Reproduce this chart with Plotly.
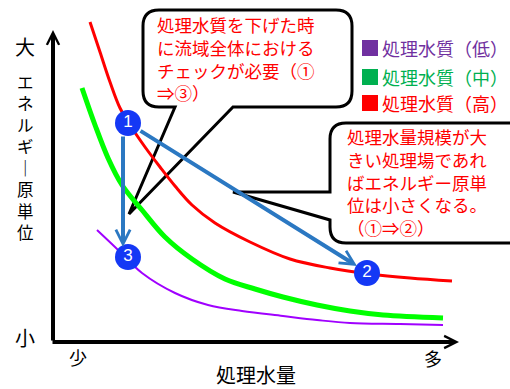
import plotly.graph_objects as go

# ---- data (diagram units: origin at the axes corner) ----
red_x = [37, 47, 57, 67, 79, 92, 107, 122, 139, 162, 197, 237, 277, 317, 357, 399]
red_y = [320, 290, 260, 234, 214, 195, 175, 156, 137, 119, 100, 83, 74, 68, 64, 61]

green_x = [29, 42, 55, 69, 89, 112, 139, 172, 202, 230, 264, 297, 330, 390]
green_y = [254, 217, 184, 157, 132, 105, 83, 63, 53, 45, 37, 31, 27, 24]

purple_x = [44, 62, 89, 122, 155, 189, 230, 264, 297, 347, 390]
purple_y = [112, 95, 69, 49, 37, 31, 26, 22, 19, 18, 17]

point_x = [75, 314, 75]
point_y = [219, 69, 85]
point_labels = ["1", "2", "3"]

legend_labels = ["処理水質（低）", "処理水質（中）", "処理水質（高）"]
legend_colors = ["#7030a0", "#00b050", "#ff0000"]

callout1_lines = ["処理水質を下げた時", "に流域全体における", "チェックが必要（①", "⇒③）"]
callout2_lines = ["処理水量規模が大", "きい処理場であれ", "ばエネルギー原単", "位は小さくなる。", "（①⇒②）"]
y_title_chars = ["エ", "ネ", "ル", "ギ", "｜", "原", "単", "位"]

FONT = "Noto Sans CJK JP"


def X(px):
    return px - 53


def Y(py):
    return 342 - py


fig = go.Figure()

fig.add_trace(go.Scatter(x=red_x, y=red_y, mode="lines", line=dict(color="#ff0000", width=3, shape="spline"),
                         hoverinfo="skip", showlegend=False))
fig.add_trace(go.Scatter(x=green_x, y=green_y, mode="lines", line=dict(color="#00ff00", width=5, shape="spline"),
                         hoverinfo="skip", showlegend=False))
fig.add_trace(go.Scatter(x=purple_x, y=purple_y, mode="lines", line=dict(color="#a000ff", width=2, shape="spline"),
                         hoverinfo="skip", showlegend=False))

shapes = []


def P(px, py):
    return f"{X(px)},{Y(py)}"


# callout 1 (rounded box with tail pointing down-left)
c1 = ("M " + P(159, 10) + " L " + P(336, 10) + " Q " + P(352, 10) + " " + P(352, 26) +
      " L " + P(352, 91) + " Q " + P(352, 107) + " " + P(336, 107) +
      " L " + P(233, 107) + " L " + P(129, 214) + " L " + P(175, 107) +
      " L " + P(159, 107) + " Q " + P(143, 107) + " " + P(143, 91) +
      " L " + P(143, 26) + " Q " + P(143, 10) + " " + P(159, 10) + " Z")
shapes.append(dict(type="path", path=c1, xref="x", yref="y", line=dict(color="black", width=3),
                   fillcolor="white", layer="below"))

# callout 2 (box running off the right edge, tail pointing left)
c2 = ("M " + P(346, 123) + " L " + P(540, 123) + " L " + P(540, 243) + " L " + P(346, 243) +
      " Q " + P(330, 243) + " " + P(330, 227) + " L " + P(330, 220) + " L " + P(233, 192) +
      " L " + P(330, 192) + " L " + P(330, 139) + " Q " + P(330, 123) + " " + P(346, 123) + " Z")
shapes.append(dict(type="path", path=c2, xref="x", yref="y", line=dict(color="black", width=3),
                   fillcolor="white", layer="below"))

# legend squares
legend_rows = [48, 77, 103]
for c, ry in zip(legend_colors, legend_rows):
    shapes.append(dict(type="rect", xref="x", yref="y", x0=X(362), x1=X(378), y0=Y(ry - 8), y1=Y(ry + 8),
                       fillcolor=c, line=dict(width=0)))

annotations = []

# axis arrows
annotations.append(dict(x=0, y=Y(30), ax=0, ay=0, xref="x", yref="y", axref="x", ayref="y", text="",
                        showarrow=True, arrowhead=5, arrowsize=0.6, arrowwidth=4, arrowcolor="black"))
annotations.append(dict(x=X(459), y=0, ax=-2, ay=0, xref="x", yref="y", axref="x", ayref="y", text="",
                        showarrow=True, arrowhead=5, arrowsize=0.6, arrowwidth=4, arrowcolor="black"))

# blue arrows between the points
annotations.append(dict(x=X(123), y=Y(247), ax=X(123), ay=point_y[0], xref="x", yref="y", axref="x", ayref="y",
                        text="", showarrow=True, arrowhead=5, arrowsize=0.7, arrowwidth=4,
                        arrowcolor="#2b78c2", startstandoff=12))
annotations.append(dict(x=X(357), y=Y(266), ax=point_x[0], ay=point_y[0], xref="x", yref="y", axref="x", ayref="y",
                        text="", showarrow=True, arrowhead=5, arrowsize=0.7, arrowwidth=4,
                        arrowcolor="#2b78c2", startstandoff=13))


def lab(text, px, py, size, color="black", xanchor="center", align="center"):
    annotations.append(dict(x=X(px), y=Y(py), xref="x", yref="y", text=text, showarrow=False,
                            xanchor=xanchor, yanchor="middle", borderpad=0, align=align,
                            font=dict(family=FONT, size=size, color=color)))


lab("大", 25, 46, 20)
# vertical axis title, one character per line
lab("<br>".join(y_title_chars), 25, 157, 16.5)
lab("小", 25, 337, 20)
lab("少", 78, 357, 18)
lab("多", 433, 358, 18)
lab("処理水量", 256, 374, 20)

# legend text
for t, c, ry in zip(legend_labels, legend_colors, legend_rows):
    lab(t, 381, ry, 18, color=c, xanchor="left")

# callout texts (one block each)
lab("<br>".join(callout1_lines), 156, 58.5, 17.5, color="#ff0000", xanchor="left", align="left")
lab("<br>".join(callout2_lines), 346, 181.5, 17.5, color="#ff0000", xanchor="left", align="left")

# numbered points
fig.add_trace(go.Scatter(x=point_x, y=point_y, mode="markers+text", text=point_labels,
                         textposition="middle center",
                         textfont=dict(family="Liberation Sans", size=17, color="white"),
                         marker=dict(size=26, color="#1438f5", line=dict(width=0)),
                         hoverinfo="skip", showlegend=False))

fig.update_layout(
    width=510, height=389,
    margin=dict(l=0, r=0, t=0, b=0),
    paper_bgcolor="white", plot_bgcolor="white",
    xaxis=dict(range=[X(0), X(510)], visible=False, fixedrange=True),
    yaxis=dict(range=[Y(389), Y(0)], visible=False, fixedrange=True),
    shapes=shapes, annotations=annotations,
)

fig.write_html("out.html", config={"displayModeBar": False},
               post_script="document.body.style.margin='0';")
